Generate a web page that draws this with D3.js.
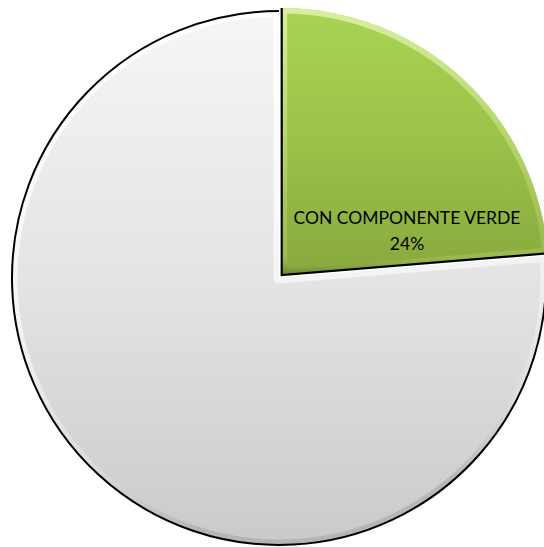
<!DOCTYPE html>
<html>
<head>
<meta charset="utf-8">
<script src="https://cdn.jsdelivr.net/npm/d3@7"></script>
<style>
  html, body { margin: 0; padding: 0; background: #fff; }
  svg { display: block; }
</style>
</head>
<body>
<div id="chart"></div>
<script>
// data (label shows rounded share)
const categories = ['CON COMPONENTE VERDE', 'SIN COMPONENTE VERDE']
const values = [23.7, 76.3]
const showLabel = [true, false]

const width = 544
const height = 547
const cx = 279, cy = 278, radius = 267
const explode = [4, 0]

const svg = d3.select('#chart').append('svg')
  .attr('width', width).attr('height', height)

const defs = svg.append('defs')

function linGrad(id, stops, x2 = '0', y2 = '1') {
  const g = defs.append('linearGradient').attr('id', id)
    .attr('x1', 0).attr('y1', 0).attr('x2', x2).attr('y2', y2)
  stops.forEach(([o, c, op]) => g.append('stop').attr('offset', o).attr('stop-color', c).attr('stop-opacity', op == null ? 1 : op))
}

linGrad('fill0', [[0, '#a9d452'], [0.5, '#9bc24a'], [1, '#89a83e']])
linGrad('fill1', [[0, '#f6f6f6'], [0.5, '#e4e4e4'], [1, '#cacaca']])
// bevel rim: light from the top, a bit darker towards the bottom
linGrad('rim0', [[0, '#dff2a8', 0.9], [0.7, '#b9da72', 0.5], [0.93, '#b0d066', 0.4], [1, '#5f7a28', 0.8]])
linGrad('rim1', [[0, '#ffffff', 1], [0.6, '#ffffff', 0.6], [0.85, '#f2f2f2', 0.3], [1, '#9a9a9a', 0.45]], '0.2', '1')

const pie = d3.pie().sort(null).value(d => d)
const arcs = pie(values)
const arc = d3.arc().innerRadius(0).outerRadius(radius)

const g = svg.append('g').attr('transform', `translate(${cx},${cy})`)

arcs.forEach((a, i) => {
  const mid = (a.startAngle + a.endAngle) / 2
  const [ox, oy] = d3.pointRadial(mid, explode[i])
  const sg = g.append('g').attr('transform', `translate(${ox},${oy})`)

  defs.append('clipPath').attr('id', 'clip' + i)
    .append('path').attr('d', arc(a))

  sg.append('path').attr('d', arc(a)).attr('fill', `url(#fill${i})`)

  // bevel highlight kept inside the slice
  sg.append('path').attr('d', arc(a))
    .attr('clip-path', `url(#clip${i})`)
    .attr('fill', 'none')
    .attr('stroke', `url(#rim${i})`)
    .attr('stroke-width', 11)
    .attr('stroke-linejoin', 'round')

  if (i === 0) {
    // green slice: black on the two straight edges
    const p0 = d3.pointRadial(a.startAngle, radius)
    const p1 = d3.pointRadial(a.endAngle, radius)
    sg.append('path')
      .attr('d', `M${p0[0]},${p0[1]}L0,0L${p1[0]},${p1[1]}`)
      .attr('fill', 'none').attr('stroke', '#000').attr('stroke-width', 2.2)
  } else {
    // grey slice: black only along the rim
    const rimArc = d3.arc().innerRadius(radius).outerRadius(radius)
    sg.append('path').attr('d', rimArc(a))
      .attr('fill', 'none').attr('stroke', '#000').attr('stroke-width', 2)
  }

  if (showLabel[i]) {
    const total = d3.sum(values)
    const lbl = sg.append('text')
      .attr('text-anchor', 'middle')
      .attr('font-family', 'Lato, "Open Sans", sans-serif')
      .attr('font-size', 17.5)
      .attr('fill', '#000')
    lbl.append('tspan').attr('x', 407 - cx - ox).attr('y', 224 - cy - oy).text(categories[i])
    lbl.append('tspan').attr('x', 407 - cx - ox).attr('y', 250 - cy - oy).text(Math.round(values[i] / total * 100) + '%')
  }
})
</script>
</body>
</html>
